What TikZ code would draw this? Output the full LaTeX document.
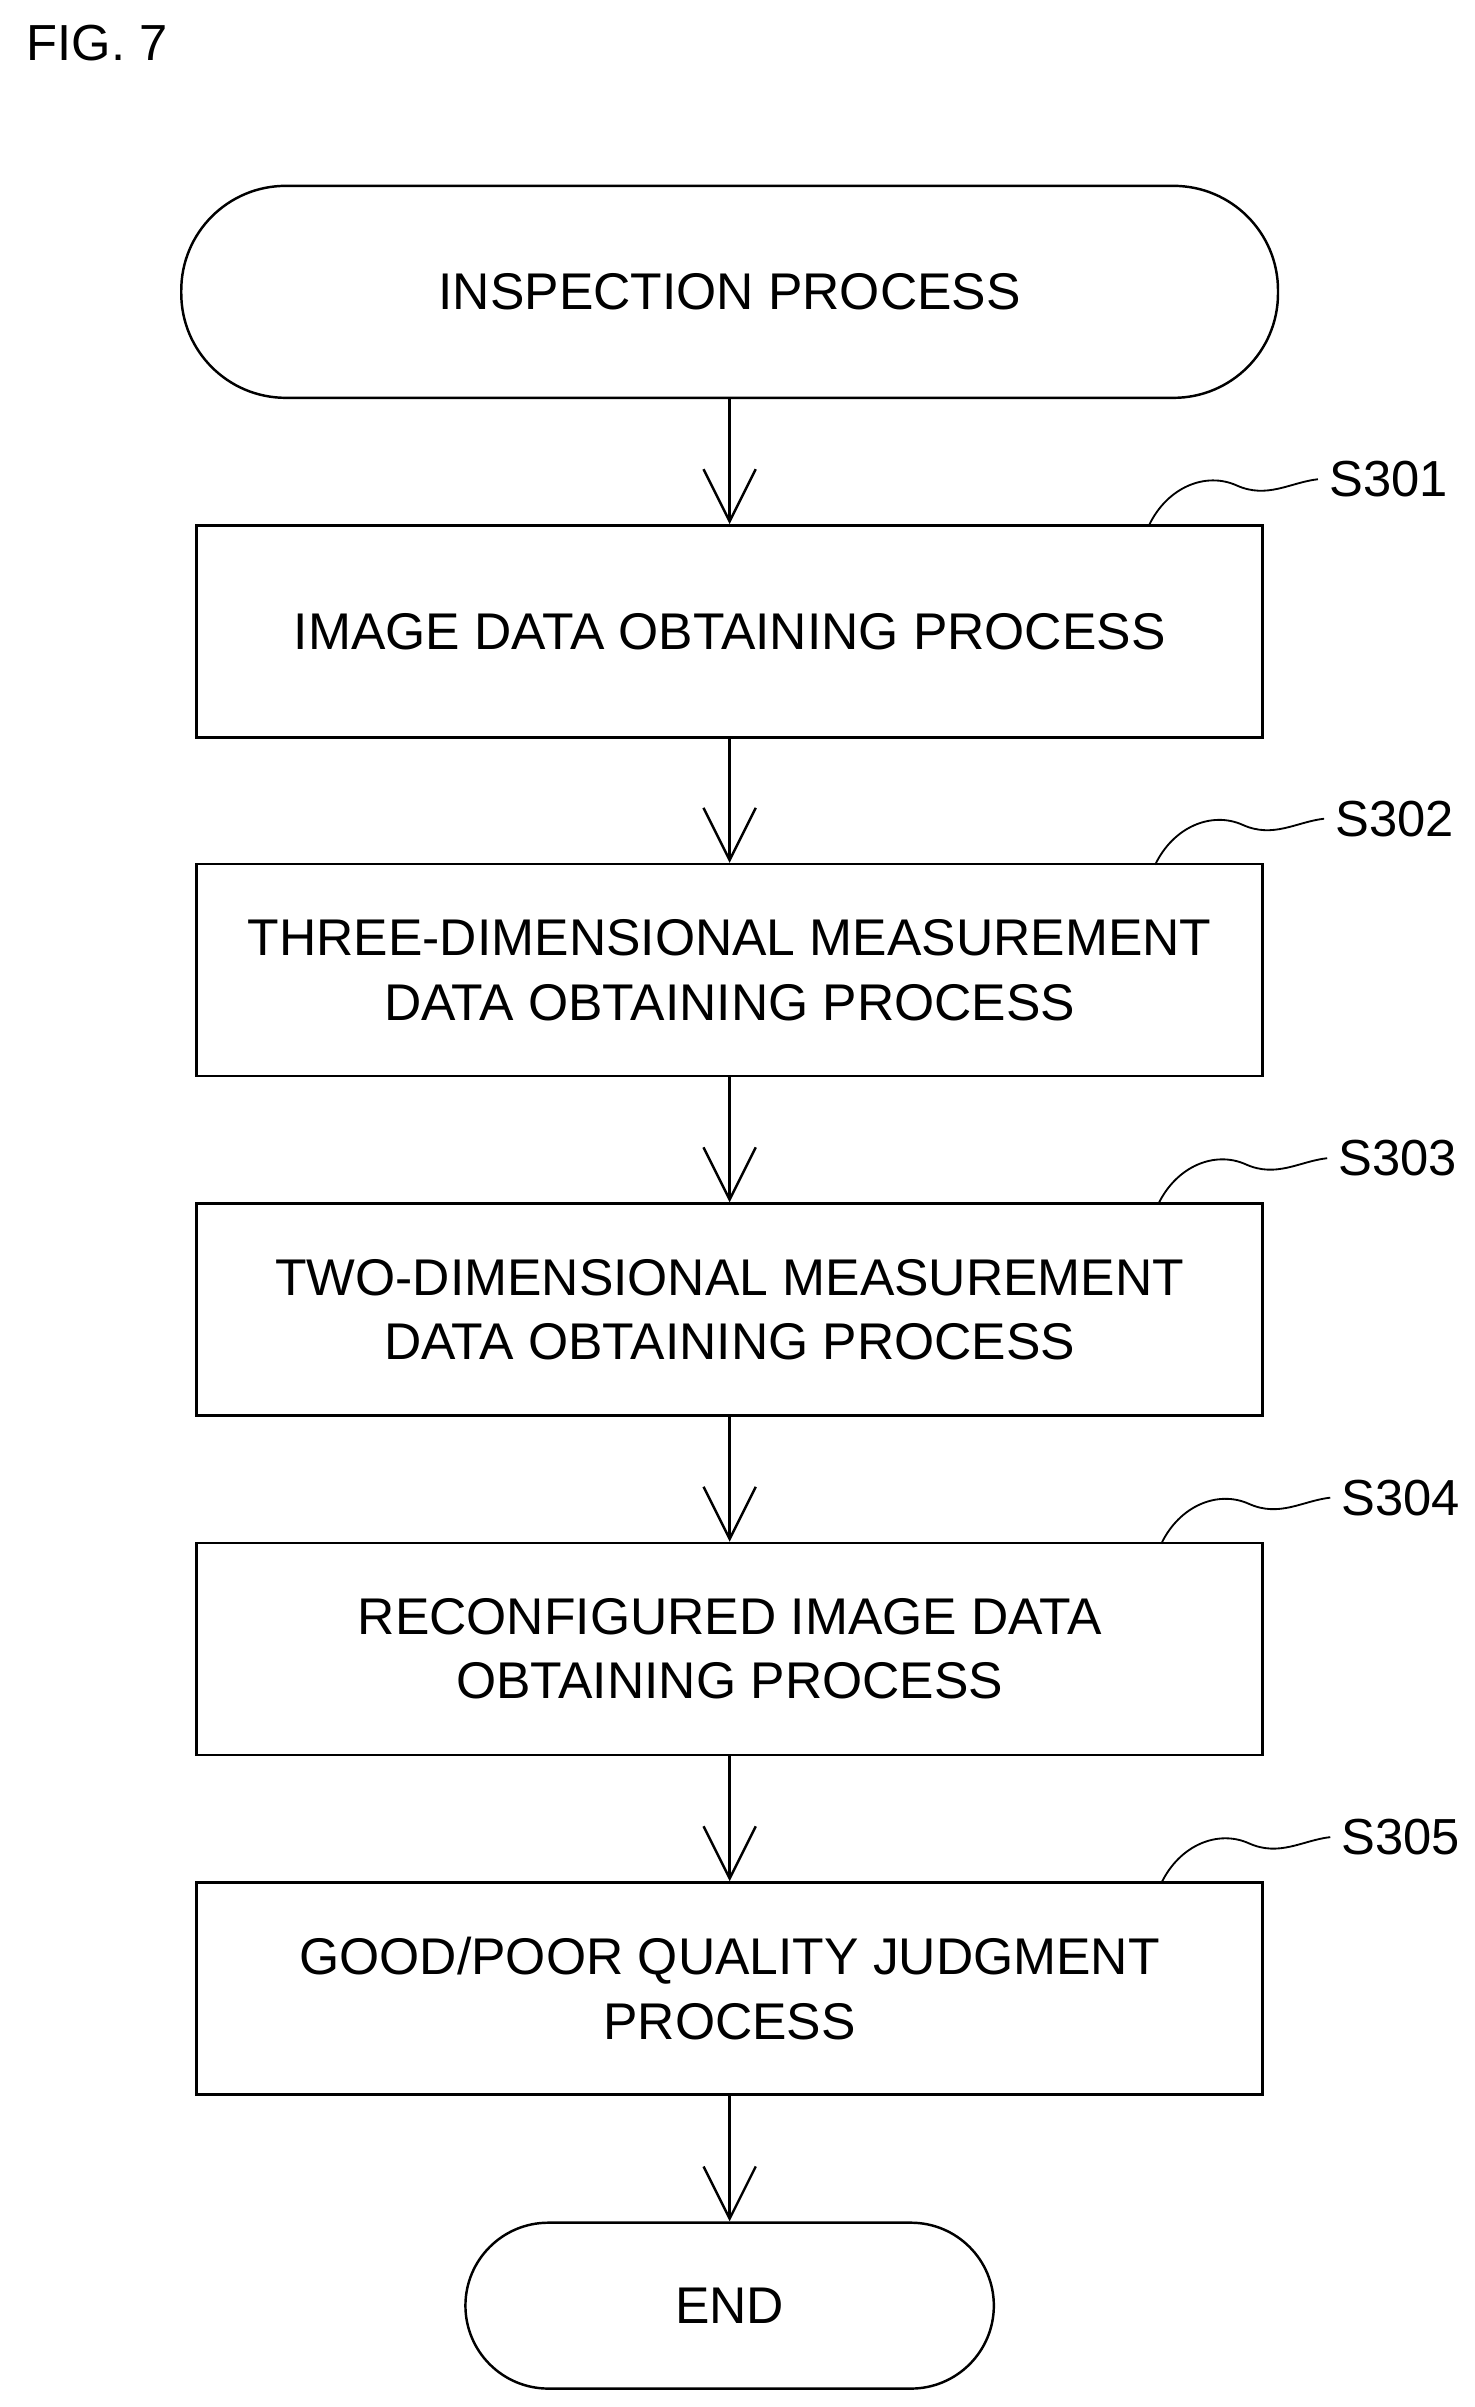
\documentclass[tikz,border=0pt]{standalone}
\usepackage{fontspec}
\setmainfont{Liberation Sans}
\usetikzlibrary{arrows.meta}
\begin{document}
\begin{tikzpicture}[x=0.5pt,y=-0.5pt,line width=0.8pt,
  box/.style={draw,minimum width=347pt,minimum height=69pt,align=center,font=\fontsize{16.8}{21}\selectfont,inner sep=0pt},
  term/.style={draw,rounded corners=34pt,minimum height=69pt,align=center,font=\fontsize{16.8}{21}\selectfont,inner sep=0pt},
  lbl/.style={font=\fontsize{16.5}{20}\selectfont,anchor=west},
  arr/.style={-{Straight Barb[length=17pt,width=17pt,line width=0.8pt]}}]
\useasboundingbox (0,0) rectangle (960,1567);
\node[anchor=west,font=\fontsize{16.5}{20}\selectfont] (fig) at (10,28) {FIG. 7};
\node[term,minimum width=357pt] (start) at (475,190) {INSPECTION PROCESS};
\node[box] (b1) at (475,411) {IMAGE DATA OBTAINING PROCESS};
\node[box] (b2) at (475,631.5) {THREE-DIMENSIONAL MEASUREMENT\\DATA OBTAINING PROCESS};
\node[box] (b3) at (475,852.5) {TWO-DIMENSIONAL MEASUREMENT\\DATA OBTAINING PROCESS};
\node[box] (b4) at (475,1073.5) {RECONFIGURED IMAGE DATA\\OBTAINING PROCESS};
\node[box] (b5) at (475,1294.5) {GOOD/POOR QUALITY JUDGMENT\\PROCESS};
\node[term,minimum width=172pt,minimum height=54pt,rounded corners=27pt] (end) at (475,1501) {END};
\foreach \a/\b in {start/b1,b1/b2,b2/b3,b3/b4,b4/b5,b5/end} \draw[arr] (\a) -- (\b);
\foreach \n/\y/\t/\dx in {b1/342/S301/0,b2/563/S302/4,b3/784/S303/6,b4/1005/S304/8,b5/1226/S305/8}{
  \coordinate (c\n) at (748+\dx,\y);
  \node[lbl] (l\n) at (858+\dx,\y-30) {\t};
  \draw[line width=0.6pt] (c\n) .. controls (760+\dx,\y-25) and (785+\dx,\y-35) .. (805+\dx,\y-26) .. controls (825+\dx,\y-17) and (840+\dx,\y-28) .. (l\n.west);
}
\end{tikzpicture}
\end{document}
